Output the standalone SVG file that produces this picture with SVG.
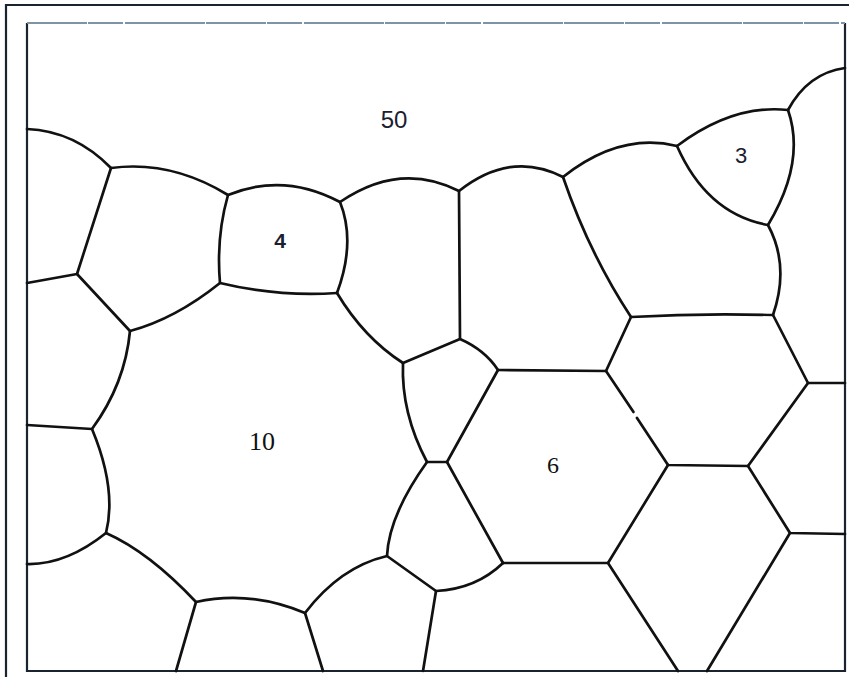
<svg xmlns="http://www.w3.org/2000/svg" width="849" height="677" viewBox="0 0 849 677">
<style>
.b{fill:none;stroke:#111;stroke-width:2.7;stroke-linecap:round;stroke-linejoin:round}
.fr{fill:none;stroke:#1a2430;stroke-width:2.2}
.ft{fill:none;stroke:#7f93a6;stroke-width:2.2;stroke-dasharray:60 1 35 2 80 1}
.s{font-family:"Liberation Sans",Arial,sans-serif;fill:#1a2030;text-anchor:middle}
.r{font-family:"Liberation Serif","Times New Roman",serif;fill:#111;text-anchor:middle}
</style>
<rect width="849" height="677" fill="#fff"/>
<g id="frame">
<path class="fr" d="M6,677 V5 H849"/>
<path class="fr" d="M27,23 V671 H845 V23"/>
<path class="ft" d="M27,23 H845"/>
</g>
<g id="boundaries">
<path class="b" d="M27,129 Q75,131 111,168 Q171,160 228,195 Q284,172 340,202 Q400,161 459,191 Q511,150 563,177 Q620,132 677,146 Q733,104 788,110 Q808,73 845,68"/>
<path class="b" d="M788,110 Q806,162 768,225 Q790,266 773,315"/>
<path class="b" d="M677,146 Q707,214 768,225"/>
<path class="b" d="M563,177 Q589,253 631,317 Q700,313 773,315"/>
<path class="b" d="M459,191 L460,339"/>
<path class="b" d="M340,202 Q356,242 337,293"/>
<path class="b" d="M228,195 Q216,237 220,283 Q278,297 337,293"/>
<path class="b" d="M111,168 L77,274 L27,283"/>
<path class="b" d="M77,274 L130,331 Q175,319 220,283"/>
<path class="b" d="M337,293 Q364,338 403,363 L460,339 Q485,350 498,370 L606,371 L631,317"/>
<path class="b" d="M773,315 L808,383 L845,383"/>
<path class="b" d="M606,371 L633.5,412"/>
<path class="b" d="M637,418 L668,465 L748,466 L808,383"/>
<path class="b" d="M748,466 L790,533 L845,534"/>
<path class="b" d="M668,465 L608,563 L503,563"/>
<path class="b" d="M608,563 L678,671"/>
<path class="b" d="M790,533 L707,671"/>
<path class="b" d="M403,363 Q401,413 427,462 L447,462 L498,370"/>
<path class="b" d="M447,462 L503,563"/>
<path class="b" d="M427,462 Q389,515 387,556 L436,591 Q476,589 503,563"/>
<path class="b" d="M436,591 L423,671"/>
<path class="b" d="M387,556 Q340,567 305,613 L323,671"/>
<path class="b" d="M305,613 Q250,590 196,602 L176,671"/>
<path class="b" d="M196,602 Q149,552 106,533 Q66,565 27,564"/>
<path class="b" d="M106,533 Q117,489 92,429 L27,425"/>
<path class="b" d="M92,429 Q125,384 130,331"/>
</g>
<g id="labels">
<text class="s" x="394" y="128" font-size="24">50</text>
<text class="s" x="280" y="248" font-size="21" font-weight="bold">4</text>
<text class="s" x="741" y="163" font-size="22">3</text>
<text class="r" x="262" y="450" font-size="26">10</text>
<text class="r" x="553" y="473" font-size="24">6</text>
</g>
</svg>
